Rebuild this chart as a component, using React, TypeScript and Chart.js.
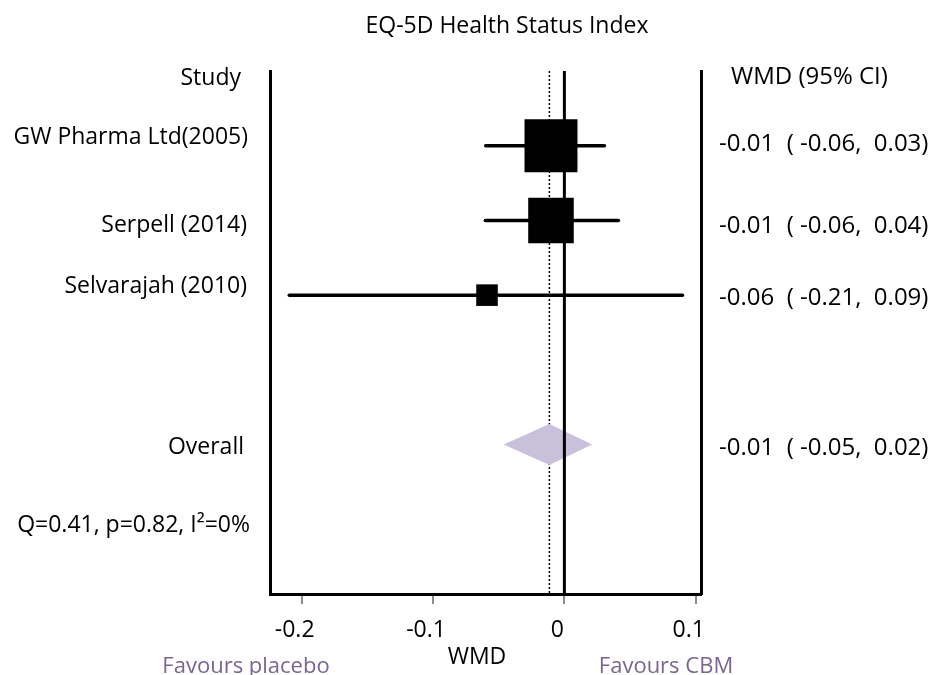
import React, { useEffect, useRef } from "react";
import { Chart, registerables } from "chart.js";

Chart.register(...registerables);

// ---------------- data ----------------
const TITLE = "EQ-5D Health Status Index";
const LEFT_HEADER = "Study";
const RIGHT_HEADER = "WMD (95% CI)";

const STUDIES = ["GW Pharma Ltd(2005)", "Serpell (2014)", "Selvarajah (2010)"];
const STUDY_ROWS = [1, 2, 3];
const STUDY_WMD = [-0.0102, -0.0102, -0.0589];
const STUDY_LOW = [-0.0599, -0.0602, -0.2094];
const STUDY_HIGH = [0.0305, 0.0411, 0.0899];
const STUDY_WEIGHT = [52.5, 38.8, 8.7];
const STUDY_TEXT = [
  "-0.01  ( -0.06,  0.03)",
  "-0.01  ( -0.06,  0.04)",
  "-0.06  ( -0.21,  0.09)",
];

const OVERALL_LABEL = "Overall";
const OVERALL_ROW = 5;
const OVERALL_WMD = -0.0114;
const OVERALL_LOW = -0.0462;
const OVERALL_HIGH = 0.0211;
const OVERALL_TEXT = "-0.01  ( -0.05,  0.02)";

const HETEROGENEITY = "Q=0.41, p=0.82, I\u00B2=0%";
const HET_ROW = 6;

const X_TICKS = [-0.2, -0.1, 0, 0.1];
const X_TICK_LABELS = ["-0.2", "-0.1", "0", "0.1"];
const X_TITLE = "WMD";
const FAVOURS_LEFT = "Favours placebo";
const FAVOURS_RIGHT = "Favours CBM";

const X_MIN = -0.2241;
const X_MAX = 0.104;
const Y_MIN = 0;
const Y_MAX = 7;

// ---------------- layout / style ----------------
const FONT = '"Open Sans", "DejaVu Sans", sans-serif';
const FONT_SIZE = 23;
const RIGHT_FONT_SIZE = 24;
const PURPLE = "#7a6592";
const DIAMOND_COLOR = "#c9c1dc";
const SQUARE_PX_PER_SQRT_WEIGHT = 7.31;
const DIAMOND_HALF_ROWS = 0.274;

const LEFT_LABEL_LAYOUT = [
  { right: 241, dy: 14 },
  { right: 248, dy: -1.5 },
  { right: 247, dy: 12 },
  { right: 247, dy: -2 },
  { right: 244, dy: 9.5 },
  { right: 250, dy: 12.5 },
];
const RIGHT_LABEL_LAYOUT = [
  { left: 731, dy: 12.5 },
  { left: 719, dy: 5.5 },
  { left: 719, dy: 13 },
  { left: 719, dy: 10 },
  { left: 719, dy: 10.5 },
];

const textPlugin = {
  id: "forestText",
  afterDraw(chart: any) {
    const { ctx } = chart;
    const y = chart.scales.y;
    ctx.save();
    ctx.font = `${FONT_SIZE}px ${FONT}`;
    ctx.fillStyle = "#000";
    ctx.textBaseline = "alphabetic";

    // title
    ctx.textAlign = "center";
    ctx.fillText(TITLE, 507, 33);

    // left column
    const leftTexts = [LEFT_HEADER, ...STUDIES, OVERALL_LABEL, HETEROGENEITY];
    const leftRows = [0, ...STUDY_ROWS, OVERALL_ROW, HET_ROW];
    ctx.textAlign = "right";
    leftTexts.forEach((t, i) => {
      const l = LEFT_LABEL_LAYOUT[i];
      ctx.fillText(t, l.right, y.getPixelForValue(leftRows[i]) + l.dy);
    });

    // right column
    const rightTexts = [RIGHT_HEADER, ...STUDY_TEXT, OVERALL_TEXT];
    const rightRows = [0, ...STUDY_ROWS, OVERALL_ROW];
    ctx.font = `${RIGHT_FONT_SIZE}px ${FONT}`;
    ctx.textAlign = "left";
    rightTexts.forEach((t, i) => {
      const l = RIGHT_LABEL_LAYOUT[i];
      ctx.fillText(t, l.left, y.getPixelForValue(rightRows[i]) + l.dy);
    });

    // axis title and favours labels
    ctx.font = `${FONT_SIZE}px ${FONT}`;
    ctx.textAlign = "center";
    ctx.fillText(X_TITLE, 477, 664);
    ctx.font = `22px ${FONT}`;
    ctx.fillStyle = PURPLE;
    ctx.fillText(FAVOURS_LEFT, 246, 673);
    ctx.fillText(FAVOURS_RIGHT, 666, 673);
    ctx.restore();
  },
};

function buildConfig(): any {
  const datasets: any[] = [];

  // line of no effect (drawn on top)
  datasets.push({
    data: [
      { x: 0, y: Y_MIN },
      { x: 0, y: Y_MAX },
    ],
    borderColor: "#000",
    borderWidth: 3,
    pointRadius: 0,
    order: 0,
  });

  // pooled diamond
  datasets.push({
    data: [
      { x: OVERALL_LOW, y: OVERALL_ROW },
      { x: OVERALL_WMD, y: OVERALL_ROW - DIAMOND_HALF_ROWS },
      { x: OVERALL_HIGH, y: OVERALL_ROW },
      { x: OVERALL_WMD, y: OVERALL_ROW + DIAMOND_HALF_ROWS },
      { x: OVERALL_LOW, y: OVERALL_ROW },
    ],
    fill: "shape",
    backgroundColor: DIAMOND_COLOR,
    borderColor: DIAMOND_COLOR,
    borderWidth: 0,
    pointRadius: 0,
    tension: 0,
    order: 1,
  });

  // study squares
  datasets.push({
    data: STUDY_WMD.map((v, i) => ({ x: v, y: STUDY_ROWS[i] })),
    showLine: false,
    pointStyle: "rect",
    pointRadius: STUDY_WEIGHT.map(
      (w) => (Math.sqrt(w) * SQUARE_PX_PER_SQRT_WEIGHT) / Math.SQRT2
    ),
    pointBackgroundColor: "#000",
    pointBorderColor: "#000",
    pointBorderWidth: 0,
    order: 2,
  });

  // confidence intervals
  STUDY_LOW.forEach((lo, i) => {
    datasets.push({
      data: [
        { x: lo, y: STUDY_ROWS[i] },
        { x: STUDY_HIGH[i], y: STUDY_ROWS[i] },
      ],
      borderColor: "#000",
      borderWidth: 3.5,
      borderCapStyle: "round",
      pointRadius: 0,
      order: 3,
    });
  });

  // pooled estimate dotted line
  datasets.push({
    data: [
      { x: OVERALL_WMD, y: Y_MIN },
      { x: OVERALL_WMD, y: Y_MAX },
    ],
    borderColor: "#000",
    borderWidth: 1.5,
    borderDash: [2, 2],
    pointRadius: 0,
    order: 4,
  });

  const yScale = (position: string, width: number) => ({
    type: "linear",
    position,
    min: Y_MIN,
    max: Y_MAX,
    reverse: true,
    ticks: { display: false },
    grid: { display: false },
    border: { display: true, color: "#000", width: 3 },
    afterFit: (s: any) => {
      s.width = width;
    },
  });

  return {
    type: "line",
    data: { datasets },
    options: {
      animation: false,
      responsive: true,
      maintainAspectRatio: false,
      events: [],
      layout: { padding: { top: 71, left: 0, right: 0, bottom: 0 } },
      plugins: {
        legend: { display: false },
        tooltip: { enabled: false },
        title: { display: false },
      },
      scales: {
        x: {
          type: "linear",
          min: X_MIN,
          max: X_MAX,
          afterBuildTicks: (s: any) => {
            s.ticks = X_TICKS.map((v) => ({ value: v }));
          },
          afterFit: (s: any) => {
            s.height = 81;
          },
          ticks: {
            callback: (_v: any, i: number) => X_TICK_LABELS[i],
            font: { family: FONT, size: FONT_SIZE },
            color: "#000",
            padding: 13,
            labelOffset: -7,
            maxRotation: 0,
            autoSkip: false,
          },
          grid: {
            drawOnChartArea: false,
            drawTicks: true,
            tickLength: 10,
            color: "#8c8c8c",
            lineWidth: 2,
          },
          border: { display: true, color: "#000", width: 3 },
        },
        y: yScale("left", 270),
        y2: yScale("right", 230),
      },
    },
    plugins: [textPlugin],
  };
}

export default function App() {
  const ref = useRef<HTMLCanvasElement>(null);
  useEffect(() => {
    const chart = new Chart(ref.current as HTMLCanvasElement, buildConfig());
    return () => chart.destroy();
  }, []);
  return (
    <div
      style={{
        position: "absolute",
        left: 0,
        top: 0,
        width: 931,
        height: 675,
        background: "#fff",
      }}
    >
      <canvas ref={ref} />
    </div>
  );
}
